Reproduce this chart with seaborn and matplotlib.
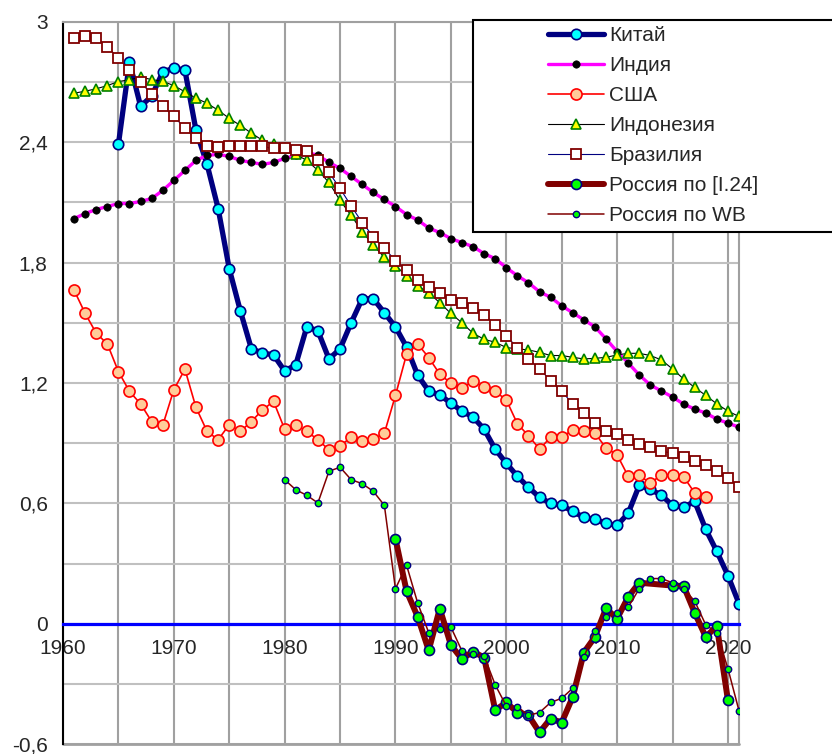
import matplotlib
matplotlib.use("Agg")
import matplotlib.pyplot as plt
from matplotlib.patches import Rectangle
from matplotlib.ticker import FuncFormatter
import seaborn as sns

# years for each series
years_wb = list(range(1961, 2022))
years_china = list(range(1965, 2022))
years_usa = list(range(1961, 2019))
years_ru_wb = list(range(1980, 2022))
years_ru_i24 = list(range(1990, 2013)) + list(range(2015, 2021))

# population growth, % per year
china = [2.39, 2.80, 2.58, 2.63, 2.75, 2.77, 2.76, 2.46, 2.29, 2.07,
         1.77, 1.56, 1.37, 1.35, 1.34, 1.26, 1.29, 1.48, 1.46, 1.32,
         1.37, 1.50, 1.62, 1.62, 1.55, 1.48, 1.38, 1.24, 1.16, 1.14,
         1.10, 1.06, 1.03, 0.97, 0.87, 0.80, 0.735, 0.68, 0.63, 0.60,
         0.59, 0.56, 0.53, 0.52, 0.50, 0.49, 0.55, 0.69, 0.67, 0.64,
         0.59, 0.58, 0.61, 0.47, 0.36, 0.24, 0.10]
india = [2.02, 2.045, 2.065, 2.08, 2.095, 2.095, 2.105, 2.12, 2.16, 2.21,
         2.26, 2.31, 2.335, 2.34, 2.33, 2.31, 2.30, 2.29, 2.30, 2.32,
         2.335, 2.35, 2.335, 2.30, 2.27, 2.23, 2.19, 2.15, 2.115, 2.08,
         2.04, 2.013, 1.973, 1.95, 1.92, 1.90, 1.88, 1.845, 1.82, 1.775,
         1.735, 1.70, 1.655, 1.627, 1.585, 1.55, 1.515, 1.48, 1.42, 1.357,
         1.30, 1.24, 1.19, 1.16, 1.13, 1.095, 1.07, 1.05, 1.02, 1.00, 0.98]
usa = [1.663, 1.547, 1.448, 1.395, 1.257, 1.158, 1.096, 1.008, 0.989, 1.166,
       1.269, 1.078, 0.959, 0.917, 0.992, 0.959, 1.008, 1.066, 1.108, 0.970,
       0.992, 0.959, 0.917, 0.867, 0.887, 0.929, 0.91, 0.92, 0.95, 1.138,
       1.343, 1.395, 1.327, 1.244, 1.199, 1.174, 1.21, 1.178, 1.158, 1.116,
       0.997, 0.937, 0.871, 0.929, 0.929, 0.967, 0.962, 0.95, 0.876, 0.842,
       0.735, 0.74, 0.70, 0.743, 0.743, 0.733, 0.652, 0.63]
indonesia = [2.645, 2.655, 2.667, 2.683, 2.703, 2.712, 2.725, 2.713, 2.704, 2.683,
             2.652, 2.62, 2.595, 2.56, 2.52, 2.484, 2.446, 2.41, 2.39, 2.37,
             2.34, 2.31, 2.26, 2.20, 2.11, 2.036, 1.954, 1.887, 1.826, 1.785,
             1.735, 1.685, 1.65, 1.60, 1.547, 1.50, 1.448, 1.418, 1.403, 1.377,
             1.37, 1.365, 1.353, 1.337, 1.337, 1.328, 1.32, 1.323, 1.328, 1.34,
             1.348, 1.348, 1.337, 1.315, 1.27, 1.22, 1.178, 1.138, 1.096, 1.06, 1.033]
brazil = [2.92, 2.93, 2.92, 2.877, 2.82, 2.76, 2.70, 2.64, 2.58, 2.53,
          2.47, 2.42, 2.383, 2.375, 2.38, 2.38, 2.38, 2.38, 2.37, 2.37,
          2.363, 2.355, 2.313, 2.25, 2.17, 2.083, 2.00, 1.93, 1.872, 1.81,
          1.764, 1.715, 1.678, 1.647, 1.614, 1.597, 1.576, 1.54, 1.49, 1.434,
          1.377, 1.32, 1.27, 1.212, 1.158, 1.096, 1.05, 1.00, 0.963, 0.947,
          0.917, 0.897, 0.879, 0.859, 0.851, 0.829, 0.809, 0.793, 0.763, 0.726, 0.68]
russia_i24 = [0.423, 0.163, 0.035, -0.133, 0.075, -0.106, -0.177, -0.139, -0.169, -0.431,
              -0.393, -0.443, -0.457, -0.542, -0.473, -0.493, -0.365, -0.144, -0.066, 0.076,
              0.025, 0.133, 0.204, 0.19, 0.188, 0.055, -0.066, -0.012, -0.381]
russia_wb = [0.718, 0.668, 0.64, 0.602, 0.76, 0.78, 0.718, 0.698, 0.66, 0.59,
             0.174, 0.292, 0.104, -0.045, -0.028, -0.017, -0.136, -0.153, -0.161, -0.305,
             -0.41, -0.414, -0.457, -0.443, -0.393, -0.372, -0.322, -0.166, -0.036, 0.033,
             0.055, 0.083, 0.174, 0.225, 0.225, 0.204, 0.174, 0.113, -0.006, -0.045,
             -0.224, -0.434]

sns.set_style("white")
plt.rcParams["font.family"] = ["Liberation Sans", "DejaVu Sans"]
plt.rcParams["font.size"] = 15

fig, ax = plt.subplots(figsize=(8.32, 7.54), dpi=100)
fig.subplots_adjust(left=63 / 832, right=739 / 832, top=1 - 22 / 754, bottom=1 - 744 / 754)

styles = [
    (years_china, china, "Китай", "#000080", 3.8, "o", 7.5, "#00ffff", "#000080", 1.2),
    (years_wb, india, "Индия", "#ff00ff", 2.4, "o", 5.3, "black", "black", 0.5),
    (years_usa, usa, "США", "#ff0000", 1.2, "o", 8.0, "#ffcc99", "#ff0000", 1.2),
    (years_wb, indonesia, "Индонезия", "black", 0.8, "^", 6.5, "#ffff00", "#008000", 1.2),
    (years_wb, brazil, "Бразилия", "#000080", 0.8, "s", 7.8, "white", "#800000", 1.3),
    (years_ru_i24, russia_i24, "Россия по [I.24]", "#800000", 4.3, "o", 7.2, "#00ff00", "#000080", 1.2),
    (years_ru_wb, russia_wb, "Россия по WB", "#800000", 1.1, "o", 4.6, "#00ff00", "#000080", 1.0),
]
for x, y, name, col, lw, mk, ms, mfc, mec, mew in styles:
    sns.lineplot(x=x, y=y, ax=ax, label=name, color=col, linewidth=lw,
                 marker=mk, markersize=ms, markerfacecolor=mfc,
                 markeredgecolor=mec, markeredgewidth=mew, zorder=3)

ax.set_xlim(1960, 2021)
ax.set_ylim(-0.6, 3.0)
ax.set_xticks(range(1960, 2021, 10))
ax.set_xticks(range(1965, 2021, 10), minor=True)
ax.set_yticks([-0.6, 0, 0.6, 1.2, 1.8, 2.4, 3.0])
ax.set_yticks([-0.3, 0.3, 0.9, 1.5, 2.1, 2.7], minor=True)
ax.yaxis.set_major_formatter(FuncFormatter(lambda v, p: f"{v:g}".replace(".", ",")))

ax.grid(True, which="both", axis="x", color="#a0a0a0", linewidth=1.5)
ax.grid(True, which="both", axis="y", color="#c0c0c0", linewidth=1.5)
ax.set_axisbelow(True)

# zero line as the x axis
ax.spines["bottom"].set_position(("data", 0))
ax.spines["bottom"].set_color("#0000ff")
ax.spines["bottom"].set_linewidth(2.3)
ax.spines["left"].set_color("black")
ax.spines["left"].set_linewidth(1.5)
for side in ["top", "right"]:
    ax.spines[side].set_color("#a0a0a0")
    ax.spines[side].set_linewidth(1.5)
ax.axhline(-0.6, color="#a0a0a0", linewidth=2, clip_on=False, zorder=1)

ax.tick_params(axis="x", which="both", direction="out", length=4, width=2.5,
               color="#0000ff", pad=7, labelsize=15)
ax.tick_params(axis="y", which="both", direction="out", length=5, width=1.5,
               color="black", pad=6, labelsize=15)
ax.set_xlabel("")
ax.set_ylabel("")

leg = ax.legend(loc="upper left", bbox_to_anchor=(548 / 832, 1 - 26 / 754),
                bbox_transform=fig.transFigure, frameon=False, borderpad=0,
                borderaxespad=0, handlelength=2.7, handletextpad=0.25,
                labelspacing=0.53, fontsize=15)
leg.set_zorder(10)
frame = Rectangle((473 / 832, 1 - 232 / 754), (840 - 473) / 832, (232 - 20) / 754,
                  transform=fig.transFigure, facecolor="white", edgecolor="black",
                  linewidth=1.5, zorder=9, clip_on=False)
ax.add_artist(frame)

plt.savefig("out.png", dpi=100)
